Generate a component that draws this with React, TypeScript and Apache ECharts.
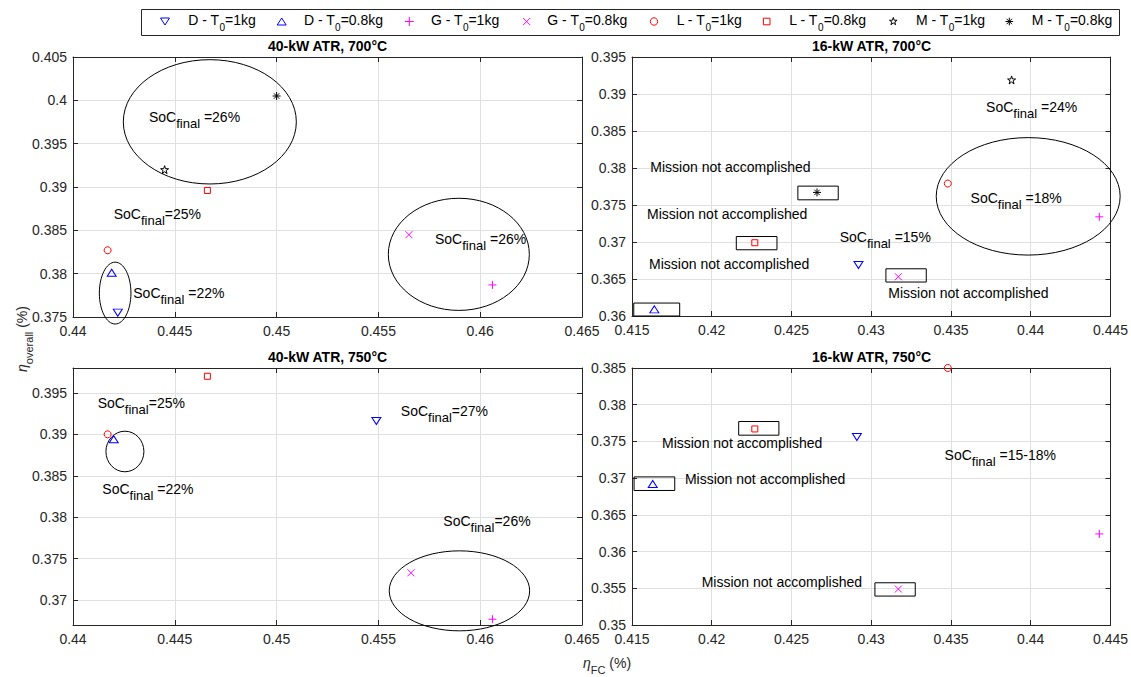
import React, { useEffect, useRef } from "react";
import * as echarts from "echarts";

const FONT = "'Liberation Sans', Arial, Helvetica, sans-serif";
const AXIS_COLOR = "#262626";
const GRID_COLOR = "#e0e0e0";

// ---- series definitions ----
const SERIES_NAMES = [
  "D - T0=1kg", "D - T0=0.8kg", "G - T0=1kg", "G - T0=0.8kg",
  "L - T0=1kg", "L - T0=0.8kg", "M - T0=1kg", "M - T0=0.8kg",
];
const LEGEND_PARTS = [
  ["D - T", "0", "=1kg"], ["D - T", "0", "=0.8kg"], ["G - T", "0", "=1kg"], ["G - T", "0", "=0.8kg"],
  ["L - T", "0", "=1kg"], ["L - T", "0", "=0.8kg"], ["M - T", "0", "=1kg"], ["M - T", "0", "=0.8kg"],
];
const SERIES_COLORS = ["#0000ff", "#0000ff", "#ff00ff", "#ff00ff", "#ff0000", "#ff0000", "#000000", "#000000"];
const STAR_PTS = [[5, 0], [6.12, 3.45], [9.76, 3.45], [6.82, 5.59], [7.94, 9.05], [5, 6.91], [2.06, 9.05], [3.18, 5.59], [0.24, 3.45], [3.88, 3.45]];
const SERIES_SYMBOLS = [
  "path://M0,0L10,0L5,8Z",
  "path://M5,0L10,8L0,8Z",
  "path://M5,0L5,10M0,5L10,5",
  "path://M0,0L10,10M10,0L0,10",
  "circle",
  "path://M0,0L10,0L10,10L0,10Z",
  "path://M" + STAR_PTS.map((p) => p.join(",")).join("L") + "Z",
  "path://M5,0L5,10M0,5L10,5M1.6,1.6L8.4,8.4M8.4,1.6L1.6,8.4",
];
const SERIES_SIZES: (number | number[])[] = [[9, 7], [9, 7], 8, 7, 7, 6, 8, 8];

// legend layout (pixels)
const LEGEND_ICON_X = [165, 281.7, 409.3, 526.7, 654, 766.7, 893.3, 1009.3];
const LEGEND_TEXT_X = [188.3, 304, 431, 547.3, 676.7, 789.3, 916, 1031.7];

// ---- panels ----
const PANEL_TITLES = ["40-kW ATR, 700°C", "16-kW ATR, 700°C", "40-kW ATR, 750°C", "16-kW ATR, 750°C"];
const X_RANGES = [[0.44, 0.465], [0.415, 0.445], [0.44, 0.465], [0.415, 0.445]];
const Y_RANGES = [[0.375, 0.405], [0.36, 0.395], [0.367, 0.398], [0.35, 0.385]];
const X_TICKS_40 = [0.44, 0.445, 0.45, 0.455, 0.46, 0.465];
const X_TICKS_16 = [0.415, 0.42, 0.425, 0.43, 0.435, 0.44, 0.445];
const Y_TICKS_TL = [0.375, 0.38, 0.385, 0.39, 0.395, 0.4, 0.405];
const Y_TICKS_TR = [0.36, 0.365, 0.37, 0.375, 0.38, 0.385, 0.39, 0.395];
const Y_TICKS_BL = [0.37, 0.375, 0.38, 0.385, 0.39, 0.395];
const Y_TICKS_BR = [0.35, 0.355, 0.36, 0.365, 0.37, 0.375, 0.38, 0.385];

// points per panel, in SERIES_NAMES order: [eta_FC, eta_overall]
const TL_POINTS = [[0.4422, 0.3755], [0.4419, 0.3801], [0.4606, 0.3787], [0.4565, 0.3845], [0.4417, 0.3827], [0.4466, 0.3896], [0.4445, 0.392], [0.45, 0.4005]];
const TR_POINTS = [[0.4292, 0.3669], [0.4164, 0.3609], [0.4443, 0.3734], [0.4317, 0.3653], [0.4348, 0.3779], [0.4227, 0.3699], [0.4388, 0.3919], [0.4266, 0.3767]];
const BL_POINTS = [[0.4549, 0.3916], [0.442, 0.3894], [0.4606, 0.3677], [0.4566, 0.3733], [0.4417, 0.39], [0.4466, 0.397], null, null];
const BR_POINTS = [[0.4291, 0.3756], [0.4163, 0.3692], [0.4443, 0.3624], [0.4317, 0.3549], [0.4348, 0.385], [0.4227, 0.3767], null, null];

// annotations (data units): ellipses [cx, cy, rx, ry], boxes [x0, y0, x1, y1], texts [x, y, label]
const TL_ELLIPSES = [[0.44672, 0.39752, 0.004249, 0.007172], [0.44207, 0.37776, 0.000776, 0.003569], [0.45895, 0.38223, 0.003463, 0.006469]];
const TR_ELLIPSES = [[0.43984, 0.37617, 0.005766, 0.007936]];
const BL_ELLIPSES = [[0.44255, 0.38793, 0.000933, 0.002448], [0.45898, 0.37112, 0.003448, 0.004824]];
const BR_ELLIPSES: number[][] = [];

const TL_BOXES: number[][] = [];
const TR_BOXES = [[0.41511, 0.36, 0.41799, 0.36175], [0.42154, 0.36895, 0.42409, 0.37074], [0.4254, 0.3757, 0.42793, 0.37755], [0.43092, 0.36459, 0.43345, 0.36638]];
const BL_BOXES: number[][] = [];
const BR_BOXES = [[0.41513, 0.36832, 0.41768, 0.37017], [0.42169, 0.37585, 0.42421, 0.37771], [0.43023, 0.35394, 0.43276, 0.35575]];

const TL_TEXTS: [number, number, string][] = [
  [0.44373, 0.39802, "SoC_{final} =26%"],
  [0.442, 0.38689, "SoC_{final}=25%"],
  [0.44296, 0.37776, "SoC_{final} =22%"],
  [0.45778, 0.38401, "SoC_{final} =26%"],
];
const TR_TEXTS: [number, number, string][] = [
  [0.41615, 0.38019, "Mission not accomplished"],
  [0.41594, 0.37381, "Mission not accomplished"],
  [0.41607, 0.36702, "Mission not accomplished"],
  [0.42802, 0.37074, "SoC_{final} =15%"],
  [0.43107, 0.3631, "Mission not accomplished"],
  [0.4372, 0.38821, "SoC_{final} =24%"],
  [0.43623, 0.37601, "SoC_{final} =18%"],
];
const BL_TEXTS: [number, number, string][] = [
  [0.44121, 0.3938, "SoC_{final}=25%"],
  [0.44144, 0.38335, "SoC_{final} =22%"],
  [0.4561, 0.39279, "SoC_{final}=27%"],
  [0.45819, 0.37953, "SoC_{final}=26%"],
];
const BR_TEXTS: [number, number, string][] = [
  [0.41688, 0.3748, "Mission not accomplished"],
  [0.41832, 0.36986, "Mission not accomplished"],
  [0.41937, 0.35581, "Mission not accomplished"],
  [0.4346, 0.37313, "SoC_{final} =15-18%"],
];

const GRIDS = [
  { left: 73, top: 57, width: 509, height: 260 },
  { left: 632, top: 57, width: 479, height: 259 },
  { left: 73, top: 368, width: 509, height: 257 },
  { left: 632, top: 368, width: 479, height: 257 },
];

function toRich(label: string) {
  const m = label.match(/^(.*)_\{(.*)\}(.*)$/);
  if (!m) return `{a|${label}}`;
  return `{a|${m[1]}}{s|${m[2]}}{a|${m[3]}}`;
}

const ANN_RICH = {
  a: { fontSize: 14, fontFamily: FONT, lineHeight: 26, fill: "#000" },
  s: { fontSize: 13, fontFamily: FONT, lineHeight: 10, verticalAlign: "bottom", fill: "#000" },
};

function fmt(v: number) {
  return String(parseFloat(Number(v).toFixed(4)));
}

function legendIcon(s: number, cx: number, cy: number): any {
  const stroke = { fill: "none", stroke: SERIES_COLORS[s], lineWidth: 1 };
  const ln = (x1: number, y1: number, x2: number, y2: number) => ({ type: "line", shape: { x1, y1, x2, y2 }, style: stroke });
  let children: any[] = [];
  switch (s) {
    case 0:
      children = [{ type: "polygon", shape: { points: [[-4.5, -3.5], [4.5, -3.5], [0, 3.5]] }, style: stroke }];
      break;
    case 1:
      children = [{ type: "polygon", shape: { points: [[0, -3.5], [4.5, 3.5], [-4.5, 3.5]] }, style: stroke }];
      break;
    case 2:
      children = [ln(0, -4.5, 0, 4.5), ln(-4.5, 0, 4.5, 0)];
      break;
    case 3:
      children = [ln(-3.5, -3.5, 3.5, 3.5), ln(3.5, -3.5, -3.5, 3.5)];
      break;
    case 4:
      children = [{ type: "circle", shape: { cx: 0, cy: 0, r: 3.7 }, style: stroke }];
      break;
    case 5:
      children = [{ type: "rect", shape: { x: -3.3, y: -3.3, width: 6.6, height: 6.6 }, style: stroke }];
      break;
    case 6:
      children = [{ type: "polygon", shape: { points: STAR_PTS.map((p) => [(p[0] - 5) * 0.8, (p[1] - 5) * 0.8]) }, style: stroke }];
      break;
    default:
      children = [ln(0, -3.8, 0, 3.8), ln(-3.8, 0, 3.8, 0), ln(-2.7, -2.7, 2.7, 2.7), ln(2.7, -2.7, -2.7, 2.7)];
  }
  return { type: "group", x: cx, y: cy, children, silent: true };
}

function buildOption() {
  const points = [TL_POINTS, TR_POINTS, BL_POINTS, BR_POINTS];
  const ellipses = [TL_ELLIPSES, TR_ELLIPSES, BL_ELLIPSES, BR_ELLIPSES];
  const boxes = [TL_BOXES, TR_BOXES, BL_BOXES, BR_BOXES];
  const texts = [TL_TEXTS, TR_TEXTS, BL_TEXTS, BR_TEXTS];
  const xTicks = [X_TICKS_40, X_TICKS_16, X_TICKS_40, X_TICKS_16];
  const yTicks = [Y_TICKS_TL, Y_TICKS_TR, Y_TICKS_BL, Y_TICKS_BR];

  const xAxis: any[] = [];
  const yAxis: any[] = [];
  const series: any[] = [];

  for (let p = 0; p < 4; p++) {
    const common = (ticks: number[]) => ({
      type: "value",
      gridIndex: p,
      axisLine: { show: true, onZero: false, lineStyle: { color: AXIS_COLOR, width: 1 } },
      axisTick: { show: true, inside: true, length: 5, customValues: ticks, lineStyle: { color: AXIS_COLOR } },
    });
    xAxis.push({
      ...common(xTicks[p]),
      position: "bottom",
      min: X_RANGES[p][0], max: X_RANGES[p][1],
      axisLabel: { show: true, customValues: xTicks[p], formatter: fmt, color: AXIS_COLOR, fontSize: 14, fontFamily: FONT, margin: 7 },
      splitLine: { show: true, lineStyle: { color: GRID_COLOR, width: 1 } },
    });
    xAxis.push({
      ...common(xTicks[p]),
      position: "top",
      min: X_RANGES[p][0], max: X_RANGES[p][1],
      axisLabel: { show: false },
      splitLine: { show: false },
    });
    yAxis.push({
      ...common(yTicks[p]),
      position: "left",
      min: Y_RANGES[p][0], max: Y_RANGES[p][1],
      axisLabel: { show: true, customValues: yTicks[p], formatter: fmt, color: AXIS_COLOR, fontSize: 14, fontFamily: FONT, margin: 6 },
      splitLine: { show: true, lineStyle: { color: GRID_COLOR, width: 1 } },
    });
    yAxis.push({
      ...common(yTicks[p]),
      position: "right",
      min: Y_RANGES[p][0], max: Y_RANGES[p][1],
      axisLabel: { show: false },
      splitLine: { show: false },
    });

    // annotations
    const ann: { k: string; v: any[] }[] = [
      ...ellipses[p].map((v) => ({ k: "e", v })),
      ...boxes[p].map((v) => ({ k: "b", v })),
      ...texts[p].map((v) => ({ k: "t", v })),
    ];
    series.push({
      type: "custom",
      xAxisIndex: p * 2,
      yAxisIndex: p * 2,
      clip: false,
      silent: true,
      z: 2,
      data: ann.map((a) => [a.v[0], a.v[1]]),
      renderItem: (params: any, api: any) => {
        const a = ann[params.dataIndex];
        if (a.k === "e") {
          const c = api.coord([a.v[0], a.v[1]]);
          const s = api.size([a.v[2], a.v[3]]);
          return {
            type: "ellipse",
            shape: { cx: c[0], cy: c[1], rx: s[0], ry: s[1] },
            style: { fill: "none", stroke: "#000", lineWidth: 1 },
          };
        }
        if (a.k === "b") {
          const p0 = api.coord([a.v[0], a.v[1]]);
          const p1 = api.coord([a.v[2], a.v[3]]);
          return {
            type: "rect",
            shape: {
              x: Math.min(p0[0], p1[0]), y: Math.min(p0[1], p1[1]),
              width: Math.abs(p1[0] - p0[0]), height: Math.abs(p1[1] - p0[1]),
            },
            style: { fill: "none", stroke: "#000", lineWidth: 1 },
          };
        }
        const c = api.coord([a.v[0], a.v[1]]);
        return {
          type: "text",
          x: c[0],
          y: c[1],
          style: {
            text: toRich(a.v[2]),
            rich: ANN_RICH,
            fill: "#000",
            fontSize: 14,
            fontFamily: FONT,
            align: "left",
            verticalAlign: "middle",
          },
        };
      },
    });

    // markers
    points[p].forEach((pt, s) => {
      if (!pt) return;
      series.push({
        type: "scatter",
        name: SERIES_NAMES[s],
        xAxisIndex: p * 2,
        yAxisIndex: p * 2,
        data: [pt],
        symbol: SERIES_SYMBOLS[s],
        symbolSize: SERIES_SIZES[s],
        clip: false,
        z: 3,
        itemStyle: { color: "rgba(0,0,0,0)", borderColor: SERIES_COLORS[s], borderWidth: 1, opacity: 1 },
        emphasis: { disabled: true },
      });
    });
  }

  const graphic: any[] = [
    {
      type: "rect",
      shape: { x: 141.5, y: 9.5, width: 978, height: 26 },
      style: { fill: "#fff", stroke: AXIS_COLOR, lineWidth: 1 },
      silent: true,
    },
  ];
  SERIES_NAMES.forEach((_, i) => {
    graphic.push(legendIcon(i, LEGEND_ICON_X[i], 21.5));
    const [a, s, b] = LEGEND_PARTS[i];
    graphic.push({
      type: "text",
      x: LEGEND_TEXT_X[i],
      y: 20,
      silent: true,
      style: {
        text: `{a|${a}}{s|${s}}{a|${b}}`,
        rich: {
          a: { fontSize: 14, fontFamily: FONT, lineHeight: 24, fill: "#000" },
          s: { fontSize: 10, fontFamily: FONT, lineHeight: 10, verticalAlign: "bottom", fill: "#000" },
        },
        align: "left",
        verticalAlign: "middle",
      },
    });
  });
  PANEL_TITLES.forEach((t, p) => {
    const g = GRIDS[p];
    graphic.push({
      type: "text",
      x: g.left + g.width / 2,
      y: g.top - 11,
      style: {
        text: t,
        font: `bold 14px ${FONT}`,
        fill: "#000",
        align: "center",
        verticalAlign: "middle",
      },
      silent: true,
    });
  });
  const labelRich = {
    e: { fontSize: 14, fontFamily: FONT, fontStyle: "italic", lineHeight: 24, fill: AXIS_COLOR },
    a: { fontSize: 14, fontFamily: FONT, lineHeight: 24, fill: AXIS_COLOR },
    s: { fontSize: 11, fontFamily: FONT, lineHeight: 10, verticalAlign: "bottom", fill: AXIS_COLOR },
  };
  graphic.push({
    type: "text",
    x: 22,
    y: 339,
    rotation: Math.PI / 2,
    style: { text: "{e|η}{s|overall}{a| (%)}", rich: labelRich, align: "center", verticalAlign: "middle" },
    silent: true,
  });
  graphic.push({
    type: "text",
    x: 583,
    y: 663,
    style: { text: "{e|η}{s|FC}{a| (%)}", rich: labelRich, align: "left", verticalAlign: "middle" },
    silent: true,
  });

  return {
    animation: false,
    backgroundColor: "#ffffff",
    grid: GRIDS.map((g) => ({ ...g, containLabel: false })),
    xAxis,
    yAxis,
    graphic,
    series,
  };
}

export default function App() {
  const ref = useRef<HTMLDivElement>(null);
  useEffect(() => {
    if (!ref.current) return;
    const chart = echarts.init(ref.current, null, { renderer: "svg" });
    chart.setOption(buildOption() as any);
    return () => chart.dispose();
  }, []);
  return (
    <div
      ref={ref}
      style={{ position: "fixed", left: 0, top: 0, width: 1131, height: 677, background: "#fff" }}
    />
  );
}
